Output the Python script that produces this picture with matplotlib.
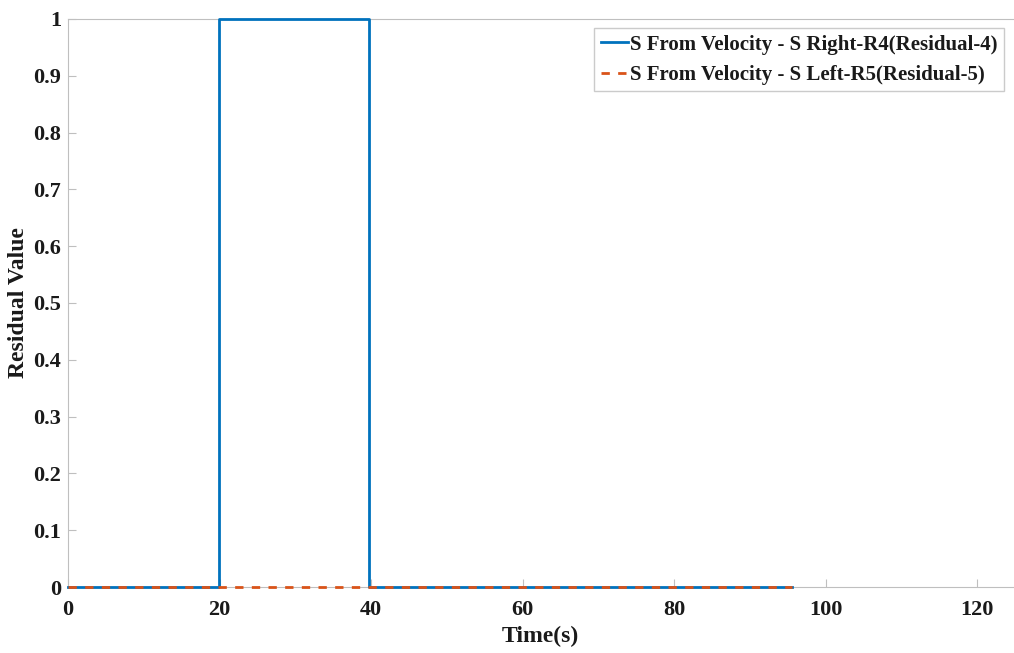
import numpy as np
import matplotlib.pyplot as plt

# 残差信号数据（阶跃）
t_r4 = [0, 19.9, 19.9, 39.7, 39.7, 95.5]
r4 = [0, 0, 1, 1, 0, 0]
t_r5 = [0, 95.5]
r5 = [0, 0]

plt.rcParams['font.family'] = ['Liberation Serif', 'DejaVu Serif']
plt.rcParams['font.weight'] = 'bold'

fig = plt.figure(figsize=(10.14, 6.53), dpi=100)
ax = fig.add_axes([0.067, 0.101, 0.932, 0.870])

ax.plot(t_r4, r4, color='#0072BD', lw=2, label='S From Velocity - S Right-R4(Residual-4)',
        clip_on=False, zorder=3)
ax.plot(t_r5, r5, color='#D95319', lw=2, ls=(0, (3, 3)), label='S From Velocity - S Left-R5(Residual-5)',
        clip_on=False, zorder=3)

ax.set_xlim(0, 124.7)
ax.set_ylim(0, 1)
ax.set_xticks(np.arange(0, 121, 20))
ax.set_yticks(np.arange(0, 1.01, 0.1))
ax.set_yticklabels(['0', '0.1', '0.2', '0.3', '0.4', '0.5', '0.6', '0.7', '0.8', '0.9', '1'])
ax.tick_params(direction='in', length=6, colors='#bfbfbf', labelcolor='#1a1a1a', labelsize=16)
ax.tick_params(axis='x', pad=9)
ax.tick_params(axis='y', pad=5)
for s in ax.spines.values():
    s.set_color('#bfbfbf')
ax.spines['right'].set_visible(False)

ax.set_xlabel('Time(s)', fontsize=17, fontweight='bold', color='#1a1a1a')
ax.set_ylabel('Residual Value', fontsize=17, fontweight='bold', color='#1a1a1a')
ax.xaxis.set_label_coords(0.5, -0.068)
ax.yaxis.set_label_coords(-0.041, 0.5)

leg = ax.legend(loc='upper right', fontsize=15, frameon=True, fancybox=False,
                edgecolor='#bfbfbf', handlelength=1.3, handletextpad=0.1,
                borderpad=0.3, labelspacing=0.5, borderaxespad=0.45)
leg.get_frame().set_linewidth(1)
leg.set_zorder(5)
for txt in leg.get_texts():
    txt.set_color('#1a1a1a')

fig.savefig('out.png', dpi=100)
